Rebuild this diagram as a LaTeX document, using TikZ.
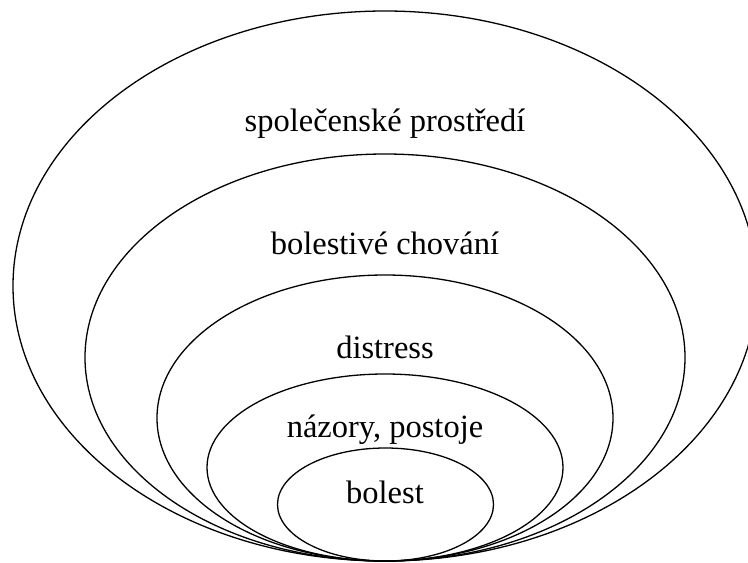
\documentclass[tikz,border=0pt]{standalone}
\usepackage{fontspec}
\setmainfont{Liberation Serif}
\usetikzlibrary{positioning}
\tikzset{
    ring/.style={
    draw=black,line width=1.3pt
    },
    tag/.style={
    font=\fontsize{32.5}{36}\selectfont,text=black,inner sep=0pt
    },
}
\begin{document}
\begin{tikzpicture}[x=1pt,y=-1pt]
   \useasboundingbox (0,0) rectangle (748,563);
   \clip (0,0) rectangle (748,563);
   % rings, all touching at the bottom
   \draw[ring] (385,286) ellipse (372 and 275);
   \draw[ring] (385,357.5) ellipse (300 and 203.5);
   \draw[ring] (385,418) ellipse (228 and 143);
   \draw[ring] (385,467.5) ellipse (178 and 93.5);
   \draw[ring] (385.5,504.5) ellipse (108 and 56.5);

   \node[tag] (env) at (385,124) {společenské prostředí};
   \node[tag] (behav) at (385,243) {bolestivé chování};
   \node[tag] (dist) at (385,347) {distress};
   \node[tag] (views) at (385,430) {názory, postoje};
   \node[tag] (pain) at (385,492) {bolest};
\end{tikzpicture}
\end{document}
